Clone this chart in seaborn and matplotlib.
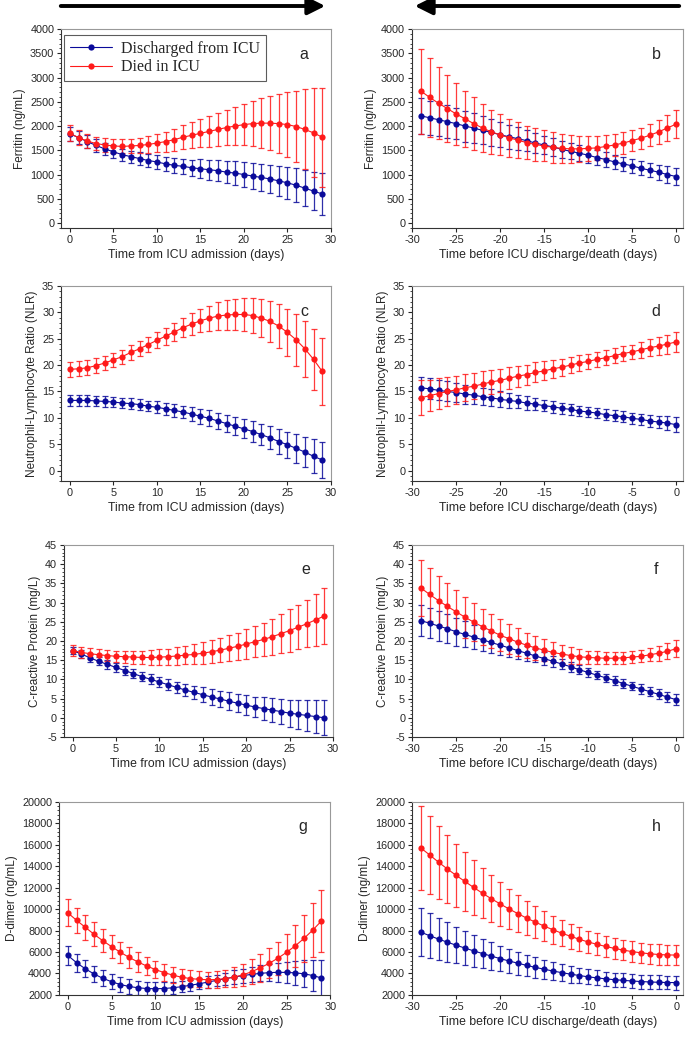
import numpy as np
import pandas as pd
import matplotlib.pyplot as plt
import seaborn as sns
from matplotlib.ticker import AutoMinorLocator, MultipleLocator
from matplotlib.patches import FancyArrowPatch

# dias
days_adm = list(range(0, 30))
days_out = list(range(-29, 1))

# a - ferritina desde a admissao
a_blue = [1840, 1760, 1680, 1600, 1530, 1470, 1410, 1370, 1330, 1290, 1260, 1220, 1190, 1170, 1140,
          1120, 1100, 1080, 1050, 1030, 1000, 970, 940, 910, 870, 830, 780, 720, 660, 600]
a_blue_err = [150, 140, 140, 130, 130, 130, 125, 125, 130, 135, 140, 145, 150, 160, 170,
              195, 205, 215, 225, 240, 255, 265, 280, 295, 310, 330, 355, 375, 395, 430]
a_red = [1850, 1760, 1690, 1640, 1610, 1590, 1580, 1590, 1600, 1620, 1650, 1680, 1720, 1770, 1810,
         1850, 1890, 1930, 1970, 2000, 2030, 2050, 2060, 2060, 2050, 2030, 1990, 1930, 1860, 1770]
a_red_err = [165, 150, 145, 140, 140, 140, 145, 150, 160, 170, 190, 205, 225, 245, 265,
             290, 315, 345, 370, 400, 430, 470, 515, 560, 615, 670, 735, 825, 915, 1020]

# b - ferritina antes da alta/obito
b_blue = [2210, 2170, 2130, 2090, 2050, 2000, 1960, 1910, 1870, 1820, 1780, 1740, 1700, 1650, 1610,
          1570, 1520, 1480, 1440, 1400, 1350, 1310, 1260, 1220, 1180, 1130, 1090, 1050, 1000, 960]
b_blue_err = [365, 355, 345, 335, 325, 320, 305, 290, 275, 260, 250, 235, 220, 205, 195,
              180, 170, 165, 160, 155, 150, 145, 145, 140, 140, 140, 145, 155, 170, 185]
b_red = [2720, 2590, 2470, 2360, 2250, 2150, 2050, 1960, 1880, 1820, 1760, 1710, 1660, 1620, 1590,
         1560, 1540, 1530, 1530, 1540, 1550, 1580, 1610, 1650, 1700, 1750, 1810, 1880, 1960, 2040]
b_red_err = [875, 810, 745, 690, 635, 580, 540, 500, 460, 420, 390, 365, 345, 330, 320,
             315, 300, 290, 275, 260, 250, 240, 230, 225, 220, 220, 230, 245, 265, 290]

# c - NLR desde a admissao
c_blue = [13.3, 13.3, 13.3, 13.2, 13.1, 13.0, 12.8, 12.7, 12.5, 12.2, 12.0, 11.7, 11.4, 11.1, 10.7,
          10.3, 9.9, 9.4, 8.9, 8.4, 7.9, 7.4, 6.8, 6.2, 5.5, 4.9, 4.2, 3.5, 2.7, 2.0]
c_blue_err = [1.0, 1.0, 1.0, 1.0, 1.0, 1.0, 1.0, 1.0, 1.0, 1.0, 1.1, 1.1, 1.2, 1.2, 1.3,
              1.4, 1.5, 1.5, 1.6, 1.7, 1.8, 1.9, 2.0, 2.2, 2.3, 2.5, 2.7, 2.9, 3.2, 3.4]
c_red = [19.2, 19.3, 19.5, 19.9, 20.4, 21.0, 21.6, 22.4, 23.1, 23.9, 24.7, 25.5, 26.3, 27.1, 27.8,
         28.4, 28.9, 29.3, 29.5, 29.6, 29.6, 29.4, 28.9, 28.3, 27.4, 26.2, 24.8, 23.1, 21.1, 18.8]
c_red_err = [1.4, 1.4, 1.4, 1.4, 1.3, 1.3, 1.3, 1.4, 1.4, 1.5, 1.5, 1.6, 1.7, 1.8, 2.0,
             2.2, 2.4, 2.6, 2.8, 2.9, 3.1, 3.3, 3.6, 3.9, 4.1, 4.5, 4.9, 5.3, 5.8, 6.4]

# d - NLR antes da alta/obito
d_blue = [15.7, 15.5, 15.2, 15.0, 14.8, 14.5, 14.3, 14.0, 13.8, 13.5, 13.3, 13.1, 12.8, 12.6, 12.3,
          12.1, 11.8, 11.6, 11.3, 11.1, 10.9, 10.6, 10.4, 10.2, 9.9, 9.7, 9.4, 9.2, 9.0, 8.7]
d_blue_err = [2.0, 2.0, 1.9, 1.9, 1.8, 1.8, 1.7, 1.6, 1.6, 1.5, 1.4, 1.3, 1.3, 1.2, 1.1,
              1.1, 1.0, 1.0, 1.0, 1.0, 1.0, 1.0, 1.0, 1.0, 1.1, 1.1, 1.2, 1.2, 1.3, 1.4]
d_red = [13.8, 14.2, 14.6, 15.0, 15.3, 15.7, 16.0, 16.4, 16.8, 17.1, 17.5, 17.9, 18.2, 18.6, 18.9,
         19.3, 19.6, 20.0, 20.4, 20.7, 21.1, 21.4, 21.8, 22.2, 22.5, 22.9, 23.3, 23.6, 24.0, 24.4]
d_red_err = [3.3, 3.0, 2.9, 2.8, 2.7, 2.6, 2.5, 2.4, 2.3, 2.2, 2.1, 2.0, 1.9, 1.9, 1.8,
             1.7, 1.6, 1.5, 1.5, 1.4, 1.4, 1.4, 1.4, 1.4, 1.4, 1.5, 1.6, 1.7, 1.8, 1.9]

# e - PCR desde a admissao
e_blue = [17.5, 16.6, 15.6, 14.7, 13.9, 13.1, 12.3, 11.5, 10.7, 10.0, 9.3, 8.6, 7.9, 7.2, 6.6,
          6.0, 5.4, 4.9, 4.3, 3.8, 3.3, 2.8, 2.4, 2.0, 1.6, 1.2, 0.9, 0.6, 0.3, 0.0]
e_blue_err = [1.0, 1.0, 1.0, 1.0, 1.1, 1.1, 1.1, 1.2, 1.2, 1.3, 1.4, 1.5, 1.5, 1.6, 1.7,
              1.9, 2.0, 2.1, 2.3, 2.4, 2.5, 2.7, 2.9, 3.1, 3.3, 3.5, 3.7, 4.0, 4.2, 4.5]
e_red = [17.5, 17.0, 16.7, 16.4, 16.2, 16.0, 15.9, 15.8, 15.7, 15.7, 15.8, 15.9, 16.1, 16.3, 16.5,
         16.8, 17.2, 17.6, 18.1, 18.6, 19.2, 19.8, 20.4, 21.1, 21.9, 22.7, 23.6, 24.5, 25.5, 26.5]
e_red_err = [1.5, 1.5, 1.5, 1.5, 1.5, 1.5, 1.6, 1.7, 1.8, 1.9, 2.0, 2.1, 2.3, 2.4, 2.6,
             2.8, 3.0, 3.2, 3.4, 3.6, 3.8, 4.1, 4.4, 4.7, 5.1, 5.5, 5.8, 6.2, 6.7, 7.2]

# f - PCR antes da alta/obito
f_blue = [25.3, 24.6, 23.9, 23.2, 22.4, 21.7, 21.0, 20.3, 19.6, 18.9, 18.2, 17.5, 16.8, 16.1, 15.4,
          14.7, 14.0, 13.3, 12.5, 11.8, 11.1, 10.4, 9.7, 8.9, 8.2, 7.5, 6.8, 6.1, 5.4, 4.7]
f_blue_err = [4.0, 3.9, 3.8, 3.7, 3.6, 3.4, 3.2, 3.0, 2.8, 2.5, 2.3, 2.1, 1.9, 1.7, 1.6,
              1.5, 1.4, 1.3, 1.2, 1.2, 1.1, 1.1, 1.1, 1.1, 1.1, 1.2, 1.2, 1.3, 1.4, 1.5]
f_red = [33.8, 32.1, 30.5, 29.0, 27.6, 26.2, 24.9, 23.7, 22.6, 21.5, 20.6, 19.7, 18.9, 18.2, 17.6,
         17.0, 16.6, 16.2, 15.9, 15.7, 15.6, 15.5, 15.5, 15.6, 15.8, 16.0, 16.4, 16.8, 17.3, 18.0]
f_red_err = [7.4, 7.0, 6.4, 6.0, 5.6, 5.3, 5.0, 4.7, 4.4, 4.2, 3.9, 3.6, 3.3, 3.1, 2.8,
             2.6, 2.4, 2.2, 2.0, 1.8, 1.7, 1.6, 1.6, 1.6, 1.6, 1.6, 1.7, 1.9, 2.1, 2.3]

# g - D-dimero desde a admissao
g_blue = [5680, 5000, 4430, 3950, 3550, 3230, 2970, 2790, 2670, 2600, 2580, 2600, 2670, 2770, 2900,
          3040, 3200, 3360, 3520, 3670, 3800, 3920, 4010, 4080, 4110, 4100, 4060, 3970, 3810, 3580]
g_blue_err = [880, 850, 800, 760, 730, 700, 680, 660, 640, 620, 600, 580, 560, 540, 520,
              500, 520, 540, 570, 610, 650, 700, 750, 820, 900, 1000, 1100, 1250, 1430, 1680]
g_red = [9650, 8950, 8300, 7650, 7050, 6500, 5980, 5500, 5080, 4700, 4370, 4080, 3850, 3650, 3530,
         3450, 3420, 3440, 3520, 3660, 3870, 4160, 4530, 4940, 5420, 5970, 6580, 7270, 8050, 8900]
g_red_err = [1250, 1200, 1150, 1120, 1080, 1050, 1000, 950, 900, 850, 800, 780, 760, 750, 750,
             750, 760, 780, 820, 900, 1050, 1150, 1280, 1400, 1550, 1700, 1950, 2200, 2500, 2880]

# h - D-dimero antes da alta/obito
h_blue = [7850, 7520, 7210, 6920, 6640, 6370, 6110, 5860, 5620, 5390, 5170, 4960, 4760, 4570, 4400,
          4230, 4080, 3940, 3810, 3690, 3590, 3500, 3420, 3360, 3300, 3250, 3210, 3180, 3160, 3150]
h_blue_err = [2250, 2100, 1970, 1850, 1680, 1580, 1480, 1380, 1290, 1200, 1130, 1060, 1000, 950, 900,
              860, 820, 780, 740, 700, 690, 680, 670, 660, 650, 650, 650, 650, 650, 650]
h_red = [15700, 15050, 14380, 13750, 13150, 12580, 12020, 11480, 10970, 10490, 10020, 9590, 9170, 8790, 8420,
         8080, 7760, 7470, 7190, 6940, 6720, 6520, 6340, 6180, 6040, 5930, 5840, 5770, 5730, 5720]
h_red_err = [3920, 3650, 3400, 3200, 2950, 2750, 2550, 2350, 2200, 2020, 1880, 1740, 1620, 1500, 1400,
             1310, 1230, 1160, 1100, 1050, 1010, 980, 960, 950, 950, 950, 950, 950, 950, 950]

groups = ['Discharged from ICU', 'Died in ICU']
colors = {'Discharged from ICU': '#0a0a9a', 'Died in ICU': '#ff1a1a'}

sns.set_style('ticks')
plt.rcParams['font.family'] = ['Liberation Sans', 'DejaVu Sans']
plt.rcParams['axes.unicode_minus'] = False

xlabel_adm = 'Time from ICU admission (days)'
xlabel_out = 'Time before ICU discharge/death (days)'

# (letra, dias, azul, erro azul, vermelho, erro vermelho, ylabel, ylim, passo y, xlabel, posicao)
panels = [
    ('a', days_adm, a_blue, a_blue_err, a_red, a_red_err, 'Ferritin (ng/mL)', (-100, 4000), 500, xlabel_adm,
     [0.089, 0.7806, 0.392, 0.1915]),
    ('b', days_out, b_blue, b_blue_err, b_red, b_red_err, 'Ferritin (ng/mL)', (-100, 4000), 500, xlabel_out,
     [0.599, 0.7806, 0.394, 0.1915]),
    ('c', days_adm, c_blue, c_blue_err, c_red, c_red_err, 'Neutrophil-Lymphocyte Ratio (NLR)', (-2, 35), 5, xlabel_adm,
     [0.089, 0.537, 0.392, 0.1877]),
    ('d', days_out, d_blue, d_blue_err, d_red, d_red_err, 'Neutrophil-Lymphocyte Ratio (NLR)', (-2, 35), 5, xlabel_out,
     [0.599, 0.537, 0.394, 0.1877]),
    ('e', days_adm, e_blue, e_blue_err, e_red, e_red_err, 'C-reactive Protein (mg/L)', (-5, 45), 5, xlabel_adm,
     [0.093, 0.2907, 0.391, 0.1848]),
    ('f', days_out, f_blue, f_blue_err, f_red, f_red_err, 'C-reactive Protein (mg/L)', (-5, 45), 5, xlabel_out,
     [0.599, 0.2907, 0.394, 0.1848]),
    ('g', days_adm, g_blue, g_blue_err, g_red, g_red_err, 'D-dimer (ng/mL)', (2000, 20000), 2000, xlabel_adm,
     [0.086, 0.0424, 0.394, 0.1858]),
    ('h', days_out, h_blue, h_blue_err, h_red, h_red_err, 'D-dimer (ng/mL)', (2000, 20000), 2000, xlabel_out,
     [0.599, 0.0424, 0.394, 0.1858]),
]

fig = plt.figure(figsize=(6.88, 10.39), dpi=100)

for letter, days, blue, blue_err, red, red_err, ylabel, ylim, ystep, xlabel, pos in panels:
    ax = fig.add_axes(pos)
    df = pd.DataFrame({
        'day': days + days,
        'value': blue + red,
        'err': blue_err + red_err,
        'group': [groups[0]] * len(days) + [groups[1]] * len(days),
    })
    for g in groups:
        sub = df[df['group'] == g]
        ax.errorbar(sub['day'], sub['value'], yerr=sub['err'], fmt='none', ecolor=colors[g],
                    elinewidth=0.9, capsize=2.4, capthick=0.9, alpha=0.85)
    sns.lineplot(data=df, x='day', y='value', hue='group', palette=colors, marker='o',
                 markersize=4.5, markeredgewidth=0, linewidth=0.8, ax=ax, legend=(letter == 'a'))

    ax.set_ylim(*ylim)
    ax.yaxis.set_major_locator(MultipleLocator(ystep))
    ax.yaxis.set_minor_locator(AutoMinorLocator(5))
    if days[0] == 0:
        ax.set_xlim(-1, 30)
        ax.set_xticks([0, 5, 10, 15, 20, 25, 30])
    else:
        ax.set_xlim(-30, 0.8)
        ax.set_xticks([-30, -25, -20, -15, -10, -5, 0])
    ax.tick_params(axis='both', labelsize=7.8, length=3, width=0.8, pad=2)
    ax.tick_params(axis='y', which='minor', length=1.8, width=0.6)
    ax.set_xlabel(xlabel, fontsize=8.8, labelpad=3)
    ax.set_ylabel(ylabel, fontsize=8.5, labelpad=3)
    for s in ['left', 'bottom']:
        ax.spines[s].set_color('#333333')
        ax.spines[s].set_linewidth(0.8)
    for s in ['top', 'right']:
        ax.spines[s].set_color('#999999')
        ax.spines[s].set_linewidth(0.8)
    ax.text(0.9, 0.87, letter, transform=ax.transAxes, fontsize=11.5, ha='center', va='center')

    if letter == 'a':
        leg = ax.legend(loc='upper left', bbox_to_anchor=(0.0, 0.985), frameon=True, fancybox=False,
                        prop={'family': 'Liberation Serif', 'size': 11.5}, handlelength=2.6,
                        borderpad=0.35, labelspacing=0.15, borderaxespad=0.2, handletextpad=0.6)
        leg.get_frame().set_edgecolor('#333333')
        leg.get_frame().set_linewidth(0.8)

# setas no topo
fig.add_artist(FancyArrowPatch((58 / 688, 1 - 6 / 1039), (328 / 688, 1 - 6 / 1039),
                               transform=fig.transFigure, arrowstyle='-|>,head_length=7,head_width=3.5',
                               mutation_scale=1.5, linewidth=2.8, color='black'))
fig.add_artist(FancyArrowPatch((682 / 688, 1 - 6 / 1039), (412 / 688, 1 - 6 / 1039),
                               transform=fig.transFigure, arrowstyle='-|>,head_length=7,head_width=3.5',
                               mutation_scale=1.5, linewidth=2.8, color='black'))

fig.savefig('out.png', dpi=100)
